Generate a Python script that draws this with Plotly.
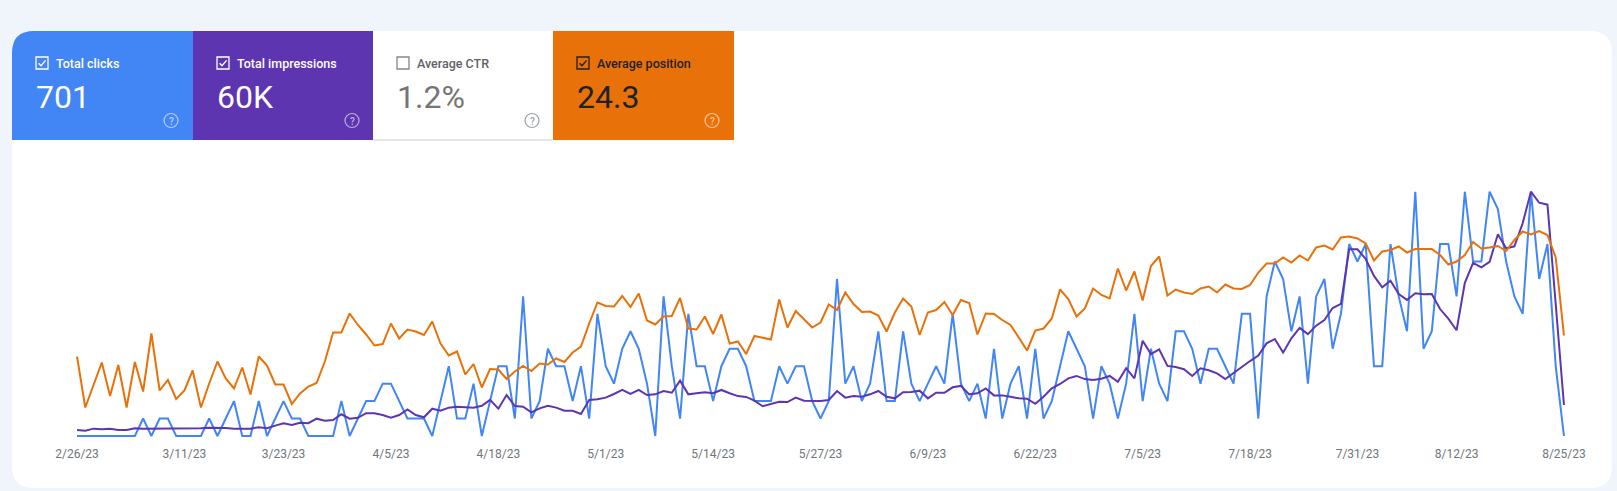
import pandas as pd
import plotly.graph_objects as go

# Search Console performance: daily values, 2/26/23 -> 8/25/23
start_day = "2023-02-26"
end_day = "2023-08-25"
days = pd.date_range(start_day, end_day, freq="D")

clicks = [
    0, 0, 0, 0, 0, 0, 0, 0, 1, 0,
    1, 1, 0, 0, 0, 0, 1, 0, 1, 2,
    0, 0, 2, 0, 1, 2, 1, 1, 0, 0,
    0, 0, 2, 0, 1, 2, 2, 3, 3, 2,
    1, 1, 1, 0, 2, 4, 1, 1, 3, 0,
    2, 4, 4, 1, 8, 1, 2, 5, 4, 4,
    2, 4, 1, 7, 4, 3, 5, 6, 5, 3,
    0, 8, 4, 1, 7, 4, 4, 2, 4, 5,
    5, 4, 2, 2, 2, 4, 3, 4, 4, 2,
    1, 2, 9, 3, 4, 2, 3, 6, 2, 2,
    6, 3, 2, 3, 4, 3, 7, 3, 2, 3,
    1, 5, 1, 3, 4, 1, 5, 1, 2, 4,
    6, 5, 4, 1, 4, 3, 1, 3, 7, 2,
    5, 3, 2, 6, 6, 5, 3, 5, 5, 4,
    3, 7, 7, 1, 8, 10, 9, 6, 8, 3,
    8, 9, 5, 7, 11, 10, 11, 4, 4, 11,
    8, 6, 14, 5, 6, 11, 11, 8, 14, 10,
    10, 14, 13, 10, 8, 7, 14, 9, 11, 4, 0,
]

impressions = [
    34, 30, 42, 38, 42, 34, 34, 44, 42, 42,
    42, 46, 44, 44, 44, 44, 47, 47, 46, 42,
    42, 42, 50, 44, 59, 73, 63, 76, 73, 99,
    87, 91, 124, 99, 104, 130, 130, 120, 104, 120,
    152, 120, 107, 156, 144, 162, 167, 164, 162, 173,
    206, 156, 234, 171, 167, 135, 158, 173, 162, 144,
    144, 126, 206, 210, 219, 240, 263, 240, 263, 234,
    238, 257, 247, 316, 238, 244, 250, 244, 263, 244,
    228, 223, 202, 170, 184, 196, 194, 219, 202, 202,
    200, 206, 257, 219, 228, 224, 238, 257, 224, 215,
    250, 251, 259, 215, 247, 247, 278, 286, 238, 244,
    272, 232, 232, 224, 215, 213, 184, 224, 272, 297,
    329, 343, 325, 320, 327, 343, 310, 387, 329, 544,
    468, 495, 400, 394, 381, 343, 387, 375, 358, 325,
    361, 396, 428, 459, 529, 554, 476, 558, 617, 582,
    630, 662, 731, 755, 1066, 1066, 1011, 914, 849, 887,
    811, 777, 815, 809, 811, 725, 670, 604, 875, 988,
    963, 995, 1152, 1072, 1083, 1215, 1395, 1332, 1321, 754, 177,
]

position = [
    40.3, 50.5, 46.0, 41.5, 48.2, 42.0, 50.5, 41.4, 47.3, 35.7,
    47.1, 45.0, 48.8, 47.1, 43.1, 50.5, 45.7, 41.3, 44.7, 46.7,
    42.5, 47.9, 40.3, 42.1, 45.9, 45.9, 49.8, 47.7, 46.3, 45.6,
    41.3, 35.5, 35.5, 31.7, 34.0, 35.9, 38.1, 37.8, 33.7, 36.7,
    34.9, 35.3, 36.0, 33.3, 37.7, 40.1, 39.3, 43.9, 41.8, 46.5,
    42.8, 42.9, 44.8, 43.3, 42.2, 43.2, 41.7, 41.9, 40.7, 41.4,
    39.5, 38.3, 33.7, 29.5, 30.2, 30.3, 28.2, 30.4, 27.7, 33.1,
    33.9, 32.3, 32.2, 28.6, 34.7, 34.9, 32.3, 35.8, 31.9, 37.7,
    37.3, 39.8, 36.2, 36.5, 36.9, 28.9, 34.5, 31.2, 32.9, 34.5,
    33.5, 29.9, 31.0, 27.5, 29.8, 31.4, 31.3, 32.1, 35.3, 31.5,
    28.7, 30.3, 36.0, 31.5, 31.0, 29.4, 32.0, 29.0, 29.6, 35.9,
    31.7, 31.8, 33.0, 34.0, 36.5, 39.1, 35.1, 34.7, 32.7, 26.9,
    28.8, 32.3, 30.7, 26.7, 28.0, 28.7, 22.7, 27.1, 23.3, 29.1,
    22.2, 20.3, 28.1, 26.9, 27.5, 27.8, 26.7, 26.3, 27.5, 25.9,
    26.7, 26.8, 26.0, 23.5, 21.7, 21.7, 20.5, 21.5, 20.1, 21.1,
    18.5, 18.1, 18.9, 16.5, 16.3, 16.7, 17.7, 21.1, 19.3, 19.0,
    18.3, 19.5, 18.8, 18.8, 18.8, 20.0, 21.9, 21.3, 20.0, 17.4,
    18.7, 18.5, 18.2, 19.2, 17.0, 15.3, 15.9, 15.2, 16.0, 20.5, 36.1,
]

tick_dates = ["2023-02-26", "2023-03-11", "2023-03-23", "2023-04-05", "2023-04-18",
              "2023-05-01", "2023-05-14", "2023-05-27", "2023-06-09", "2023-06-22",
              "2023-07-05", "2023-07-18", "2023-07-31", "2023-08-12", "2023-08-25"]
tick_labels = ["2/26/23", "3/11/23", "3/23/23", "4/5/23", "4/18/23", "5/1/23", "5/14/23",
               "5/27/23", "6/9/23", "6/22/23", "7/5/23", "7/18/23", "7/31/23", "8/12/23", "8/25/23"]

# summary tiles
tile_names = ["Total clicks", "Total impressions", "Average CTR", "Average position"]
tile_values = ["701", "60K", "1.2%", "24.3"]
tile_checked = [True, True, False, True]

BLUE = "#4285f4"
PURPLE = "#5e35b1"
ORANGE = "#e8710a"
PAGE = "#f0f4fb"

W, H = 1617, 491


def px(x):
    return x / W


def py(y):
    return 1 - y / H


def rounded(x0, y0, x1, y1, tl=0, tr=0, br=0, bl=0):
    # path in paper coords from pixel box, y grows downward
    pts = [
        f"M {px(x0 + tl)},{py(y0)}",
        f"L {px(x1 - tr)},{py(y0)}",
        f"Q {px(x1)},{py(y0)} {px(x1)},{py(y0 + tr)}",
        f"L {px(x1)},{py(y1 - br)}",
        f"Q {px(x1)},{py(y1)} {px(x1 - br)},{py(y1)}",
        f"L {px(x0 + bl)},{py(y1)}",
        f"Q {px(x0)},{py(y1)} {px(x0)},{py(y1 - bl)}",
        f"L {px(x0)},{py(y0 + tl)}",
        f"Q {px(x0)},{py(y0)} {px(x0 + tl)},{py(y0)}",
        "Z",
    ]
    return " ".join(pts)


fig = go.Figure()

fig.add_trace(go.Scatter(x=days, y=position, yaxis="y3", mode="lines",
                         line=dict(color=ORANGE, width=2), name="Average position"))
fig.add_trace(go.Scatter(x=days, y=clicks, yaxis="y", mode="lines",
                         line=dict(color=BLUE, width=2), name="Clicks"))
fig.add_trace(go.Scatter(x=days, y=impressions, yaxis="y2", mode="lines",
                         line=dict(color=PURPLE, width=2), name="Impressions"))

shapes = []
# white card
shapes.append(dict(type="path", xref="paper", yref="paper", layer="below",
                   path=rounded(12, 31, 1612, 488, 22, 22, 22, 22),
                   fillcolor="white", line=dict(width=0)))

tile_left = [12, 193, 373, 553]
tile_right = [193, 373, 553, 734]
tile_fill = [BLUE, PURPLE, "white", ORANGE]
label_col = ["white", "white", "#5f6368", "#202124"]
value_col = ["white", "white", "#757575", "#202124"]
help_col = ["rgba(255,255,255,0.6)", "rgba(255,255,255,0.6)", "#9aa0a6", "rgba(255,255,255,0.6)"]

annotations = []
for k in range(4):
    x0, x1 = tile_left[k], tile_right[k]
    if k == 0:
        shapes.append(dict(type="path", xref="paper", yref="paper", layer="below",
                           path=rounded(x0, 31, x1, 140, tl=22),
                           fillcolor=tile_fill[k], line=dict(width=0)))
    elif tile_fill[k] != "white":
        shapes.append(dict(type="rect", xref="paper", yref="paper", layer="below",
                           x0=px(x0), x1=px(x1), y0=py(140), y1=py(31),
                           fillcolor=tile_fill[k], line=dict(width=0)))
    else:
        shapes.append(dict(type="line", xref="paper", yref="paper", layer="below",
                           x0=px(x0), x1=px(x1), y0=py(140), y1=py(140),
                           line=dict(color="#dadce0", width=1.5)))
    # checkbox
    bx, by, s = x0 + 24, 57, 12
    box_col = label_col[k] if k != 2 else "#80868b"
    shapes.append(dict(type="rect", xref="paper", yref="paper", layer="below",
                       x0=px(bx), x1=px(bx + s), y0=py(by + s), y1=py(by),
                       line=dict(color=box_col, width=1.3), fillcolor="rgba(0,0,0,0)"))
    if tile_checked[k]:
        shapes.append(dict(type="path", xref="paper", yref="paper", layer="below",
                           path=f"M {px(bx + 2.6)},{py(by + 6.2)} L {px(bx + 5)},{py(by + 8.8)} "
                                f"L {px(bx + 9.6)},{py(by + 3.4)}",
                           line=dict(color=box_col, width=1.4)))
    # help icon
    hx, hy = x0 + 159, 120.5
    shapes.append(dict(type="circle", xref="paper", yref="paper", layer="below",
                       x0=px(hx - 7), x1=px(hx + 7), y0=py(hy + 7), y1=py(hy - 7),
                       line=dict(color=help_col[k], width=1.2)))
    annotations.append(dict(x=px(hx), y=py(hy + 0.5), xref="paper", yref="paper",
                            text="?", showarrow=False, xanchor="center", yanchor="middle",
                            font=dict(family="Roboto", size=10, color=help_col[k], weight=500)))
    annotations.append(dict(x=px(x0 + 42), y=py(63), xref="paper", yref="paper",
                            text=tile_names[k], showarrow=False, xanchor="left", yanchor="middle",
                            font=dict(family="Roboto", size=12.5, color=label_col[k], weight=500)))
    annotations.append(dict(x=px(x0 + 22), y=py(97), xref="paper", yref="paper",
                            text=tile_values[k], showarrow=False, xanchor="left", yanchor="middle",
                            font=dict(family="Roboto", size=32, color=value_col[k])))

x_dom = [72.9 / W, 1568.1 / W]
y_dom = [py(440), py(150)]

fig.update_layout(
    width=W, height=H,
    margin=dict(l=0, r=0, t=0, b=0, pad=0, autoexpand=False),
    paper_bgcolor=PAGE,
    plot_bgcolor="rgba(0,0,0,0)",
    showlegend=False,
    hovermode=False,
    shapes=shapes,
    annotations=annotations,
    xaxis=dict(domain=x_dom, type="date", automargin=False,
               range=["2023-02-25 12:00", "2023-08-25 12:00"],
               tickvals=tick_dates, ticktext=tick_labels,
               ticks="outside", ticklen=3, tickcolor="rgba(0,0,0,0)",
               showgrid=False, zeroline=False, showline=False,
               tickfont=dict(family="Roboto", size=12, color="#70757a")),
    yaxis=dict(domain=y_dom, range=[-0.229, 16.39], visible=False, automargin=False),
    yaxis2=dict(overlaying="y", range=[-22.8, 1633.1], visible=False, automargin=False),
    yaxis3=dict(overlaying="y", range=[57, -1], visible=False, automargin=False),
)

# page margin off so the figure sits at the window origin
fig.write_html("out.html",
               config={"displayModeBar": False},
               post_script="document.body.style.margin='0';document.body.style.overflow='hidden';")
